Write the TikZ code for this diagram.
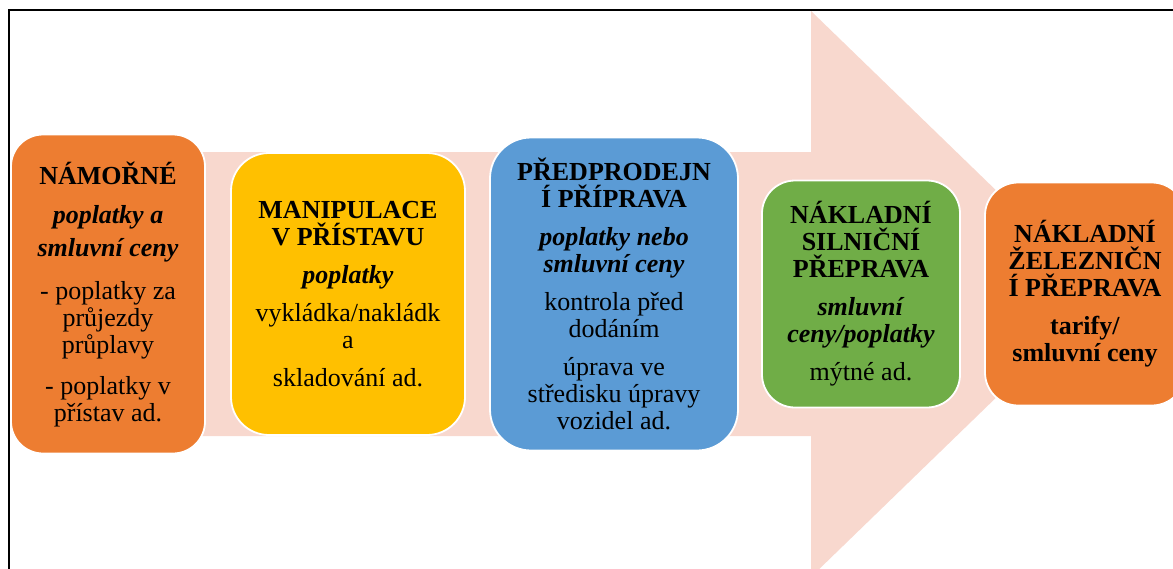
\documentclass[tikz,border=0pt]{standalone}
\usepackage{fontspec}
\usepackage{xcolor}
\setmainfont{Liberation Serif}

\definecolor{oranzova}{HTML}{ED7D31}
\definecolor{zluta}{HTML}{FFC000}
\definecolor{modra}{HTML}{5B9BD5}
\definecolor{zelena}{HTML}{70AD47}
\definecolor{ruzova}{HTML}{F8D8CE}

\begin{document}
\begin{tikzpicture}[x=1pt, y=-1pt,
	stage/.style={draw=white, line width=1.8pt, align=center, text=black,
		font=\fontsize{26}{27}\selectfont, inner sep=2pt},
	sipka/.style={fill=ruzova}]
			\useasboundingbox (0,0) rectangle (1173,568);
			\clip (0,0) rectangle (1173,568);
			
			% We will draw the big arrow here
			\fill[sipka] (20,152) -- (811,152) -- (811,11) -- (1103,294)
				-- (811,577) -- (811,436) -- (20,436) -- cycle;
			
			% frame
			\draw[line width=2.2pt] (9,600) -- (9,10) -- (1200,10);
			
			% the five steps
			\node[stage, fill=oranzova, minimum width=194pt, minimum height=319pt, rounded corners=32pt] (namorni) at (108,294)
				{\textbf{NÁMOŘNÉ}\\[12pt]
				\textbf{\textit{poplatky a}}\\[6pt]\textbf{\textit{smluvní ceny}}\\[16pt]
				- poplatky za\\průjezdy\\průplavy\\[14pt]
				- poplatky v\\přístav ad.};
			\node[stage, fill=zluta, minimum width=234pt, minimum height=282pt, rounded corners=38pt] (pristav) at (348,294)
				{\textbf{MANIPULACE}\\\textbf{V PŘÍSTAVU}\\[11pt]
				\textbf{\textit{poplatky}}\\[11pt]
				vykládka/nakládk\\a\\[11pt]
				skladování ad.};
			\node[stage, fill=modra, minimum width=248pt, minimum height=313pt, rounded corners=41pt] (priprava) at (614,294)
				{\textbf{PŘEDPRODEJN}\\\textbf{Í PŘÍPRAVA}\\[11pt]
				\textbf{\textit{poplatky nebo}}\\\textbf{\textit{smluvní ceny}}\\[11pt]
				kontrola před\\dodáním\\[11pt]
				úprava ve\\středisku úpravy\\vozidel ad.};
			\node[stage, fill=zelena, minimum width=198pt, minimum height=227pt, rounded corners=33pt] (silnicni) at (861,294)
				{\textbf{NÁKLADNÍ}\\\textbf{SILNIČNÍ}\\\textbf{PŘEPRAVA}\\[11pt]
				\textbf{\textit{smluvní}}\\\textbf{\textit{ceny/poplatky}}\\[11pt]
				mýtné ad.};
			\node[stage, fill=oranzova, minimum width=200pt, minimum height=223pt, rounded corners=33pt] (zeleznicni) at (1085,294)
				{\textbf{NÁKLADNÍ}\\\textbf{ŽELEZNIČN}\\\textbf{Í PŘEPRAVA}\\[11pt]
				\textbf{tarify/}\\\textbf{smluvní ceny}};
			
		\end{tikzpicture}
\end{document}
